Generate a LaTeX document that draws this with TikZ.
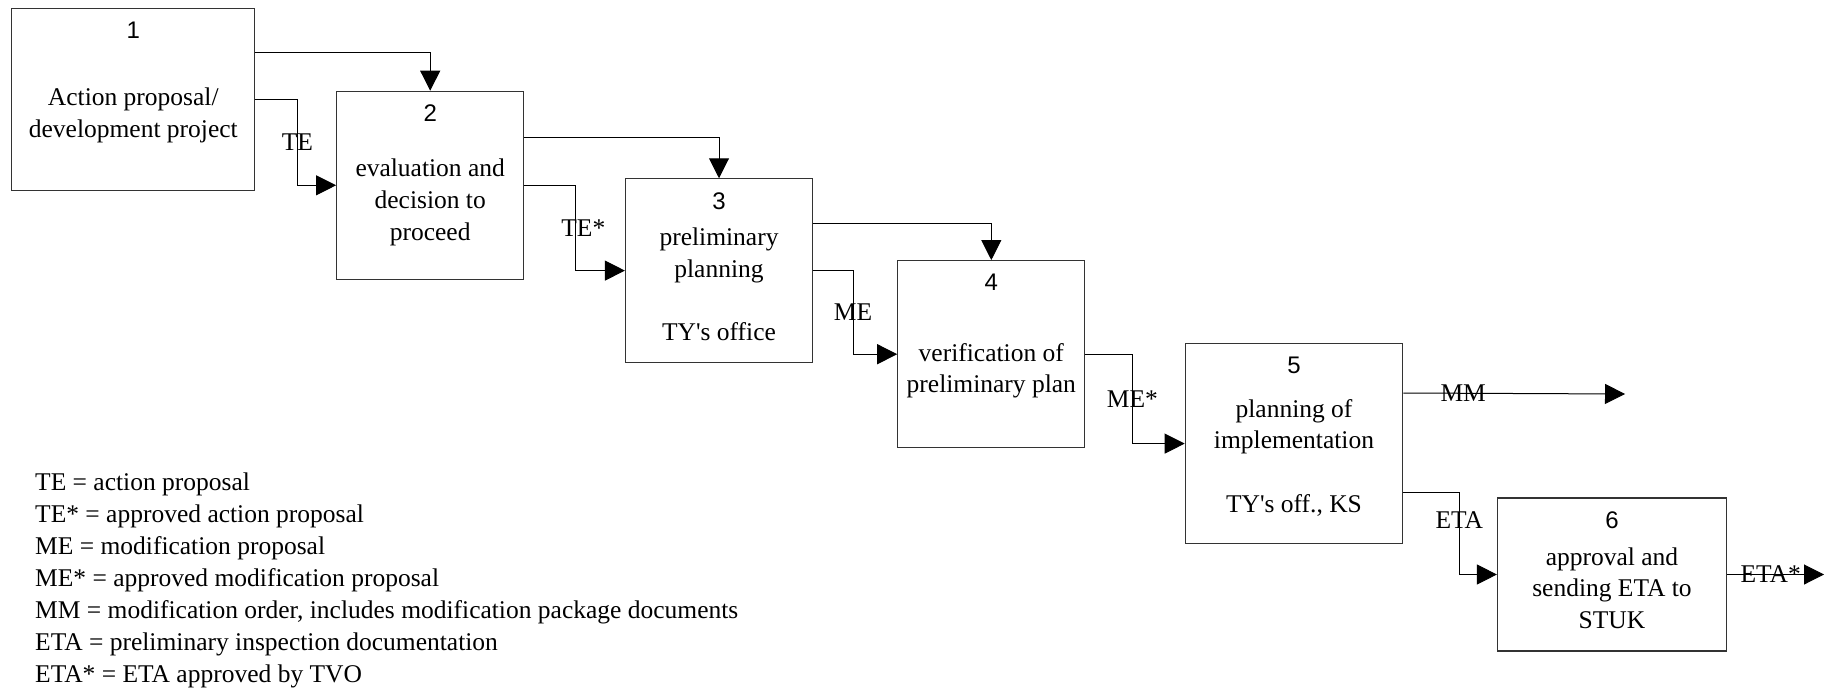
\documentclass[tikz,border=0pt]{standalone}
\usepackage{fontspec}
\setmainfont{Liberation Serif}
\newfontfamily\numfont{Liberation Sans}
\usetikzlibrary{positioning,arrows.meta}

\begin{document}
\begin{tikzpicture}[x=1pt,y=-1pt,
% Box, number and text style
    box/.style={draw=black!80,line width=1.2pt,inner sep=0pt},
    num/.style={font=\numfont\fontsize{24}{28}\selectfont,inner sep=0pt},
    txt/.style={font=\fontsize{25.5}{31.6}\selectfont,align=center,
		inner sep=0pt},
% Flow lines and their labels
    flow/.style={line width=1pt,-{Triangle[length=20pt,width=20pt]}},
    lbl/.style={font=\fontsize{25.5}{32.1}\selectfont,inner sep=0pt}
    ]
    \useasboundingbox (0,0) rectangle (1833,688);
%% Draw boxes
    \node (b1) [box,minimum width=243pt,minimum height=182pt] at (133.3,99.3) {};
    \node (b2) [box,minimum width=187pt,minimum height=188pt] at (430.2,185.3) {};
    \node (b3) [box,minimum width=187pt,minimum height=183.5pt] at (719,270.6) {};
    \node (b4) [box,minimum width=187pt,minimum height=187pt] at (991.3,354.2) {};
    \node (b5) [box,minimum width=217.4pt,minimum height=200pt] at (1294,443.6) {};
    \node (b6) [box,minimum width=229pt,minimum height=153pt] at (1612,574.5) {};
%% Numbers and texts
    \node (n1) [num] at ([yshift=-22.5pt]b1.north) {1};
    \node (n2) [num] at ([yshift=-22.5pt]b2.north) {2};
    \node (n3) [num] at ([yshift=-22.5pt]b3.north) {3};
    \node (n4) [num] at ([yshift=-22.5pt]b4.north) {4};
    \node (n5) [num] at ([yshift=-22.5pt]b5.north) {5};
    \node (n6) [num] at ([yshift=-22.5pt]b6.north) {6};
    \node (t1) [txt] at ([yshift=-16pt]b1.center) {Action proposal/\\development project};
    \node (t2) [txt] at ([yshift=-17pt]b2.center) {evaluation and\\decision to\\proceed};
    \node (t3) [txt] at ([yshift=-13.5pt]b3.center)
		{preliminary\\planning\\[31.6pt]TY\textquotesingle s office};
    \node (t4) [txt] at ([yshift=-16.5pt]b4.center) {verification of\\preliminary plan};
    \node (t5) [txt] at ([yshift=-14pt]b5.center)
		{planning of\\implementation\\[31.6pt]TY\textquotesingle s off., KS};
    \node (t6) [txt] at ([yshift=-13.5pt]b6.center) {approval and\\sending ETA to\\STUK};
%% Draw flows
    \coordinate (mmend) at (1625,394);
    \coordinate (etaend) at (1824,574.5);
    \draw [flow] (b1.north east) ++(0,45) -| (b2.north);
    \draw [flow] (b1.east) -- ++(42,0) |- (b2.west) node [lbl,pos=0.25] {TE};
    \draw [flow] (b2.north east) ++(0,47) -| (b3.north);
    \draw [flow] (b2.east) -- ++(51,0) |- (b3.west)
		node [lbl,pos=0.25,xshift=8pt] {TE*};
    \draw [flow] (b3.north east) ++(0,45.5) -| (b4.north);
    \draw [flow] (b3.east) -- ++(40,0) |- (b4.west) node [lbl,pos=0.25] {ME};
    \draw [flow] (b4.east) -- ++(47,0) |- (b5.west) node [lbl,pos=0.25] {ME*};
    \draw [flow] (b5.north east) ++(0,50) -- (mmend) node [lbl,pos=0.27] {MM};
    \draw [flow] (b5.south east) ++(0,-52) -- ++(56,0) |- (b6.west)
		node [lbl,pos=0.17] {ETA};
    \draw [flow] (b6.east) -- (etaend) node [lbl,pos=0.45] {ETA*};
%% Key
    \node (key) [lbl,align=left,anchor=west] at (35,580.5)
		{TE = action proposal\\
		TE* = approved action proposal\\
		ME = modification proposal\\
		ME* = approved modification proposal\\
		MM = modification order, includes modification package documents\\
		ETA = preliminary inspection documentation\\
		ETA* = ETA approved by TVO};
\end{tikzpicture}
\end{document}
